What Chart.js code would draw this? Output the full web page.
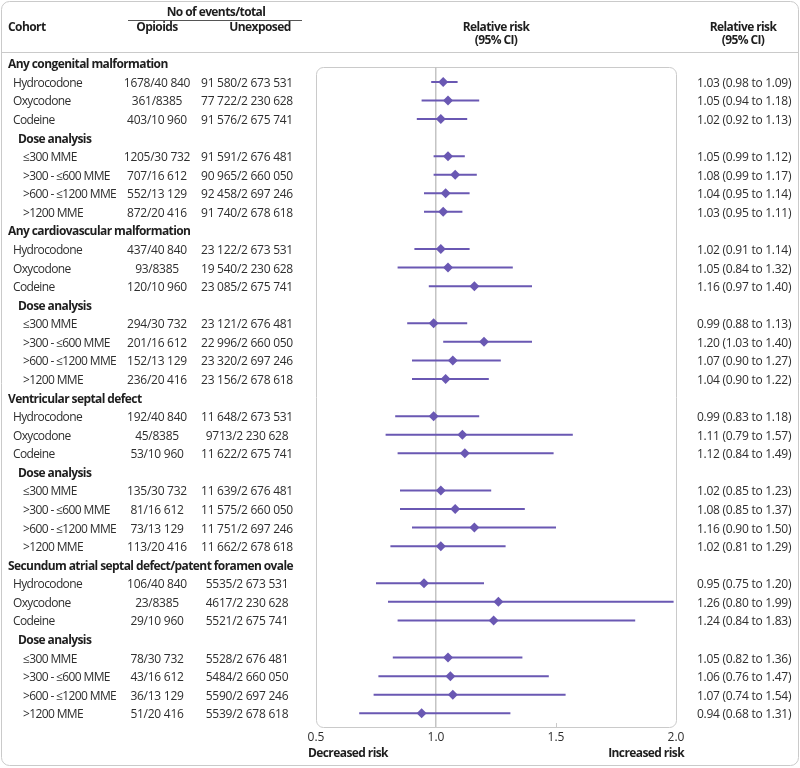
<!DOCTYPE html>
<html lang="en">
<head>
<meta charset="UTF-8">
<title>Opioid exposure and malformations</title>
<script src="https://cdn.jsdelivr.net/npm/chart.js"></script>
<style>
  body { margin: 0; background: #fff; }
  #wrap { width: 800px; height: 768px; }
</style>
</head>
<body>
<div id="wrap"><canvas id="forest" width="800" height="768"></canvas></div>
<script>
// outcome sections, each with three drugs then four dose groups
const outcomes = [
  'Any congenital malformation',
  'Any cardiovascular malformation',
  'Ventricular septal defect',
  'Secundum atrial septal defect/patent foramen ovale'
];
const drugs = ['Hydrocodone', 'Oxycodone', 'Codeine'];
const doses = ['≤300 MME', '>300 - ≤600 MME', '>600 - ≤1200 MME', '>1200 MME'];

const opioidCounts = [
  '1678/40 840', '361/8385', '403/10 960', '1205/30 732', '707/16 612', '552/13 129', '872/20 416',
  '437/40 840', '93/8385', '120/10 960', '294/30 732', '201/16 612', '152/13 129', '236/20 416',
  '192/40 840', '45/8385', '53/10 960', '135/30 732', '81/16 612', '73/13 129', '113/20 416',
  '106/40 840', '23/8385', '29/10 960', '78/30 732', '43/16 612', '36/13 129', '51/20 416'
];
const unexposedCounts = [
  '91 580/2 673 531', '77 722/2 230 628', '91 576/2 675 741', '91 591/2 676 481', '90 965/2 660 050', '92 458/2 697 246', '91 740/2 678 618',
  '23 122/2 673 531', '19 540/2 230 628', '23 085/2 675 741', '23 121/2 676 481', '22 996/2 660 050', '23 320/2 697 246', '23 156/2 678 618',
  '11 648/2 673 531', '9713/2 230 628', '11 622/2 675 741', '11 639/2 676 481', '11 575/2 660 050', '11 751/2 697 246', '11 662/2 678 618',
  '5535/2 673 531', '4617/2 230 628', '5521/2 675 741', '5528/2 676 481', '5484/2 660 050', '5590/2 697 246', '5539/2 678 618'
];
const rr = [
  1.03, 1.05, 1.02, 1.05, 1.08, 1.04, 1.03,
  1.02, 1.05, 1.16, 0.99, 1.20, 1.07, 1.04,
  0.99, 1.11, 1.12, 1.02, 1.08, 1.16, 1.02,
  0.95, 1.26, 1.24, 1.05, 1.06, 1.07, 0.94
];
const ciLow = [
  0.98, 0.94, 0.92, 0.99, 0.99, 0.95, 0.95,
  0.91, 0.84, 0.97, 0.88, 1.03, 0.90, 0.90,
  0.83, 0.79, 0.84, 0.85, 0.85, 0.90, 0.81,
  0.75, 0.80, 0.84, 0.82, 0.76, 0.74, 0.68
];
const ciHigh = [
  1.09, 1.18, 1.13, 1.12, 1.17, 1.14, 1.11,
  1.14, 1.32, 1.40, 1.13, 1.40, 1.27, 1.22,
  1.18, 1.57, 1.49, 1.23, 1.37, 1.50, 1.29,
  1.20, 1.99, 1.83, 1.36, 1.47, 1.54, 1.31
];
const xMin = 0.5, xMax = 2.0, xStep = 0.5;

const FONT = '"Open Sans", "Noto Sans", sans-serif';
const PURPLE = '#6a58b3';
const TEXT = '#2e2e2e';
const LINE = '#cacaca';

// one row per printed line
const rows = [];
let k = 0;
outcomes.forEach(o => {
  rows.push({ text: o, indent: 0, bold: true });
  drugs.forEach(d => rows.push({ text: d, indent: 1, i: k++ }));
  rows.push({ text: 'Dose analysis', indent: 2, bold: true });
  doses.forEach(d => rows.push({ text: d, indent: 3, i: k++ }));
});
const indentX = [8, 13, 18, 23];

const points = [];
const ciSegments = [];
rows.forEach((r, j) => {
  if (r.i === undefined) return;
  points.push({ x: rr[r.i], y: j });
  ciSegments.push({ x: ciLow[r.i], y: j }, { x: ciHigh[r.i], y: j }, { x: null, y: null });
});

// the original typeface is narrower than Open Sans, tighten to match widths
const spacing = {};
(function calibrate() {
  const c = document.createElement('canvas').getContext('2d');
  const fit = (font, s, w) => { c.font = font; return (w - c.measureText(s).width) / s.length; };
  spacing.regular = fit('12px ' + FONT, 'Hydrocodone', 69);
  spacing.num = fit('12px ' + FONT, '91 580/2 673 531', 92);
  spacing.bold = fit('bold 12px ' + FONT, 'Secundum atrial septal defect/patent foramen ovale', 285);
})();

function txt(ctx, s, x, y, align, style) {
  const bold = style === 'bold';
  ctx.font = (bold ? 'bold ' : '') + '12px ' + FONT;
  ctx.letterSpacing = (spacing[style || 'regular']).toFixed(2) + 'px';
  ctx.fillStyle = bold ? '#1e1e1e' : TEXT;
  ctx.textAlign = align;
  ctx.textBaseline = 'middle';
  ctx.fillText(s, x, y + 1.5);
}

const tablePlugin = {
  id: 'table',
  beforeDraw(chart) {
    const { ctx, chartArea: a } = chart;
    ctx.save();
    ctx.strokeStyle = LINE;
    ctx.lineWidth = 1;
    ctx.beginPath(); ctx.roundRect(1.5, 1.5, 797, 764, 8); ctx.stroke();
    ctx.beginPath(); ctx.moveTo(1, 52.5); ctx.lineTo(799, 52.5); ctx.stroke();
    ctx.beginPath(); ctx.roundRect(a.left + 0.5, a.top + 0.5, a.width, a.height, 7); ctx.stroke();
    const x15 = Math.round(chart.scales.x.getPixelForValue(1.5)) + 0.5;
    ctx.beginPath(); ctx.moveTo(x15, a.bottom - 4); ctx.lineTo(x15, a.bottom); ctx.stroke();
    ctx.restore();
  },
  afterDraw(chart) {
    const { ctx, chartArea: a } = chart;
    const y = chart.scales.y;
    const mid = (a.left + a.right) / 2;
    ctx.save();
    // header
    txt(ctx, 'Cohort', 8, 26, 'left', 'bold');
    txt(ctx, 'No of events/total', 216, 11, 'center', 'bold');
    ctx.strokeStyle = '#555';
    ctx.beginPath(); ctx.moveTo(128, 20.5); ctx.lineTo(302, 20.5); ctx.stroke();
    txt(ctx, 'Opioids', 157, 26, 'center', 'bold');
    txt(ctx, 'Unexposed', 260, 26, 'center', 'bold');
    txt(ctx, 'Relative risk', mid, 26, 'center', 'bold');
    txt(ctx, '(95% CI)', mid, 39, 'center', 'bold');
    txt(ctx, 'Relative risk', 743, 26, 'center', 'bold');
    txt(ctx, '(95% CI)', 743, 39, 'center', 'bold');
    // body
    rows.forEach((r, j) => {
      const py = y.getPixelForValue(j);
      txt(ctx, r.text, indentX[r.indent], py, 'left', r.bold ? 'bold' : 'regular');
      if (r.i === undefined) return;
      txt(ctx, opioidCounts[r.i], 157, py, 'center', 'num');
      txt(ctx, unexposedCounts[r.i], 247, py, 'center', 'num');
      const est = rr[r.i].toFixed(2) + ' (' + ciLow[r.i].toFixed(2) + ' to ' + ciHigh[r.i].toFixed(2) + ')';
      txt(ctx, est, 697, py, 'left', 'num');
    });
    // axis captions
    txt(ctx, 'Decreased risk', a.left - 8, 752, 'left', 'bold');
    txt(ctx, 'Increased risk', a.right + 8, 752, 'right', 'bold');
    ctx.restore();
  }
};

new Chart(document.getElementById('forest'), {
  type: 'scatter',
  data: {
    datasets: [
      {
        type: 'line',
        data: ciSegments,
        borderColor: PURPLE,
        borderWidth: 2,
        pointRadius: 0,
        spanGaps: false
      },
      {
        data: points,
        pointStyle: 'rectRot',
        pointRadius: 5,
        backgroundColor: PURPLE,
        borderColor: PURPLE,
        borderWidth: 0
      }
    ]
  },
  options: {
    responsive: false,
    animation: false,
    layout: { padding: { left: 316, right: 124, top: 67, bottom: 0 } },
    plugins: { legend: { display: false }, tooltip: { enabled: false } },
    scales: {
      x: {
        type: 'linear',
        min: xMin,
        max: xMax,
        border: { display: false },
        grid: {
          drawTicks: false,
          color: c => (c.tick && c.tick.value === 1 ? '#c4c4c4' : 'transparent'),
          lineWidth: 1.5
        },
        ticks: {
          stepSize: xStep,
          padding: 3,
          color: TEXT,
          font: { family: FONT, size: 12 },
          callback: v => v.toFixed(1)
        },
        afterFit: s => { s.height = 41; }
      },
      y: {
        type: 'linear',
        display: false,
        reverse: true,
        min: 0.199,
        max: 35.738
      }
    }
  },
  plugins: [tablePlugin]
});
</script>
</body>
</html>
